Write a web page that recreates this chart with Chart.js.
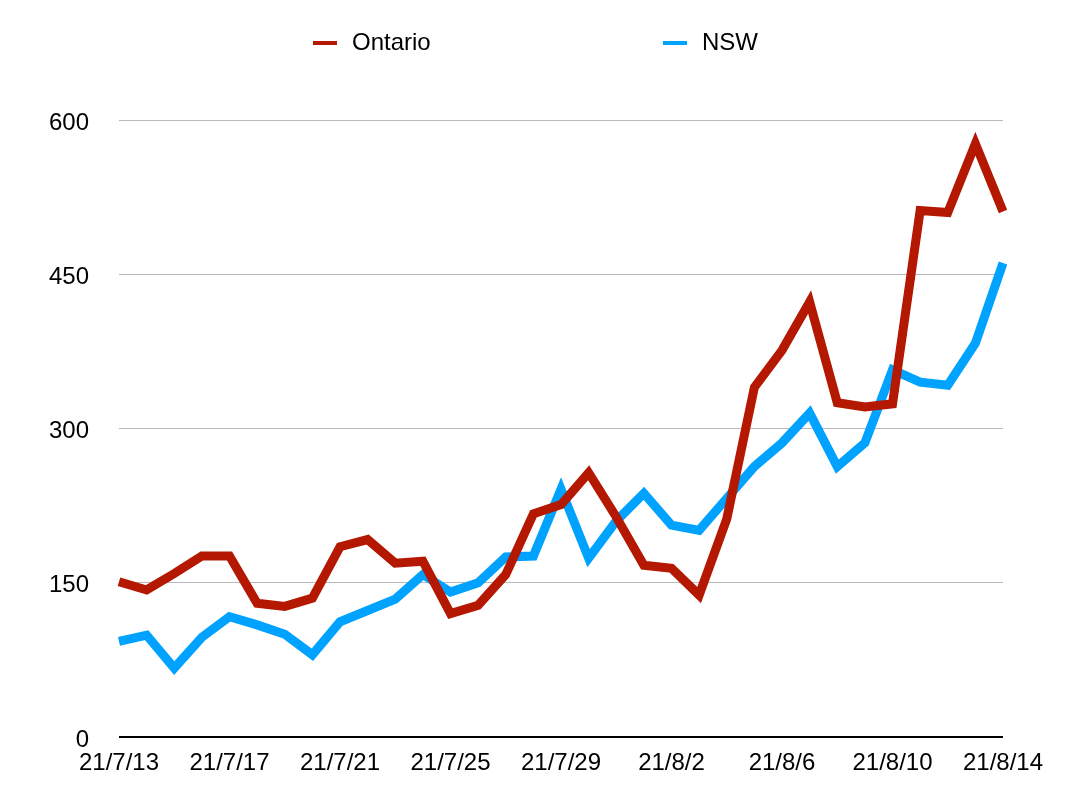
<!DOCTYPE html>
<html>
<head>
<meta charset="utf-8">
<script src="https://cdn.jsdelivr.net/npm/chart.js@4/dist/chart.umd.min.js"></script>
<style>
  body { margin: 0; background: #fff; }
  #wrap { width: 1078px; height: 806px; }
</style>
</head>
<body>
<div id="wrap"><canvas id="casesChart"></canvas></div>
<script>
// dates (yy/m/d)
var days = ['21/7/13', '21/7/14', '21/7/15', '21/7/16', '21/7/17', '21/7/18', '21/7/19', '21/7/20',
            '21/7/21', '21/7/22', '21/7/23', '21/7/24', '21/7/25', '21/7/26', '21/7/27', '21/7/28',
            '21/7/29', '21/7/30', '21/7/31', '21/8/1', '21/8/2', '21/8/3', '21/8/4', '21/8/5',
            '21/8/6', '21/8/7', '21/8/8', '21/8/9', '21/8/10', '21/8/11', '21/8/12', '21/8/13', '21/8/14'];
var ontario = [151, 143, 159, 176, 176, 130, 127, 135, 185, 192, 169, 171, 120, 128, 158, 217,
               226, 257, 214, 167, 164, 138, 212, 340, 376, 423, 325, 321, 324, 512, 510, 577, 511];
var nsw = [93, 99, 67, 97, 117, 109, 100, 80, 112, 123, 134, 158, 141, 150, 175, 176,
           241, 174, 210, 237, 206, 201, 232, 263, 286, 315, 263, 286, 357, 345, 342, 383, 461];
var yTicks = [0, 150, 300, 450, 600];

var RED = 'rgb(180, 24, 0)';
var BLUE = 'rgb(0, 162, 255)';
var FONT = { family: '"Liberation Sans", Arial, Helvetica, sans-serif', size: 24 };

// legend drawn by hand so the two entries sit far apart like the original
var sideLegend = {
    id: 'sideLegend',
    afterDraw: function (chart) {
        var c = chart.ctx;
        var mid = chart.width / 2;
        var items = [
            { x: mid - 226, text: chart.data.datasets[0].label, color: chart.data.datasets[0].borderColor },
            { x: mid + 124, text: chart.data.datasets[1].label, color: chart.data.datasets[1].borderColor }
        ];
        c.save();
        c.font = FONT.size + 'px ' + FONT.family;
        c.textBaseline = 'middle';
        c.textAlign = 'left';
        items.forEach(function (it) {
            c.fillStyle = it.color;
            c.fillRect(it.x, 41, 24, 4);
            c.fillStyle = '#000';
            c.fillText(it.text, it.x + 39, 43);
        });
        c.restore();
    }
};

var ctx = document.getElementById('casesChart').getContext('2d');
var casesChart = new Chart(ctx, {
    type: 'line',
    data: {
        labels: days,
        datasets: [{
            label: 'Ontario',
            data: ontario,
            borderColor: RED,
            backgroundColor: RED,
            borderWidth: 9,
            pointRadius: 0,
            tension: 0,
            fill: false
        }, {
            label: 'NSW',
            data: nsw,
            borderColor: BLUE,
            backgroundColor: BLUE,
            borderWidth: 9,
            pointRadius: 0,
            tension: 0,
            fill: false
        }]
    },
    options: {
        responsive: true,
        maintainAspectRatio: false,
        animation: false,
        layout: { padding: { top: 120, right: 75, left: 0, bottom: 0 } },
        plugins: {
            legend: { display: false },
            tooltip: { enabled: false }
        },
        scales: {
            x: {
                grid: { display: false, drawTicks: false },
                border: { display: false },
                ticks: {
                    autoSkip: false,
                    maxRotation: 0,
                    padding: 12,
                    color: '#000',
                    font: FONT,
                    callback: function (val, i) {
                        return i % 4 === 0 ? days[i] : '';
                    }
                },
                afterFit: function (s) { s.height = 69; }
            },
            y: {
                min: 0,
                max: 600,
                afterBuildTicks: function (s) {
                    s.ticks = yTicks.map(function (v) { return { value: v }; });
                },
                grid: {
                    drawTicks: false,
                    color: function (c) { return c.tick.value === 0 ? '#000' : '#b9b9b9'; },
                    lineWidth: function (c) { return c.tick.value === 0 ? 2 : 1; }
                },
                border: { display: false },
                ticks: {
                    padding: 30,
                    labelOffset: 3,
                    color: '#000',
                    font: FONT
                },
                afterFit: function (s) { s.width = 119; }
            }
        }
    },
    plugins: [sideLegend]
});
</script>
</body>
</html>
